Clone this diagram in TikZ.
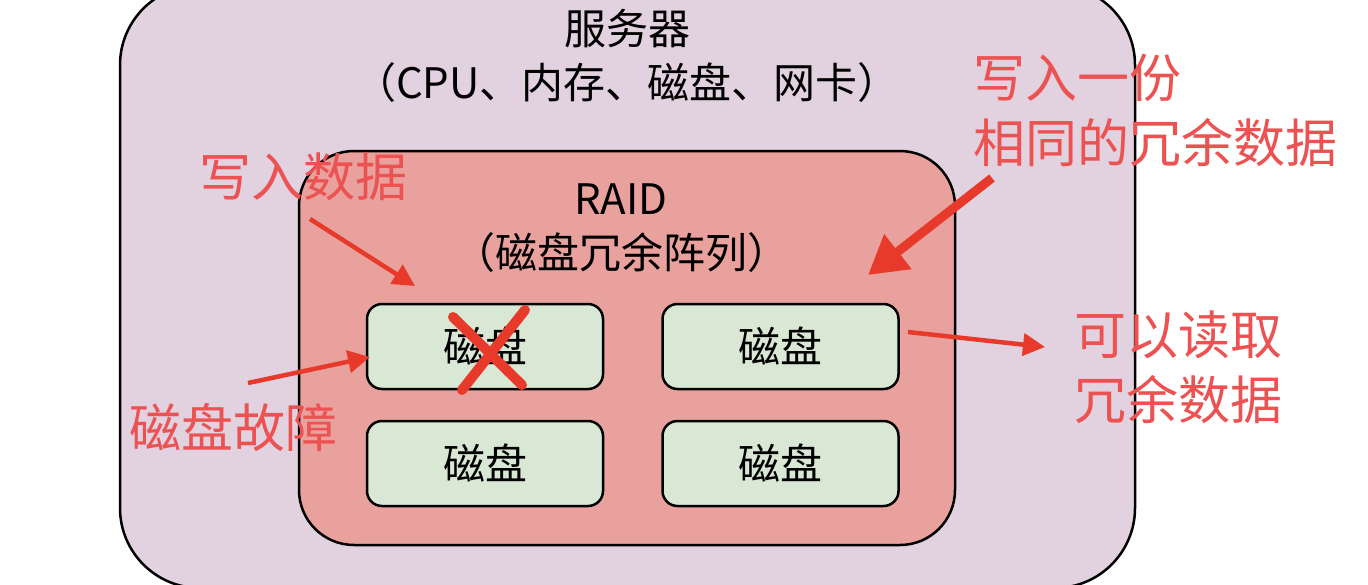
\documentclass[tikz,border=0pt]{standalone}
\usepackage{fontspec}
\setmainfont{Noto Sans CJK SC}
\usetikzlibrary{arrows.meta}
\definecolor{outerfill}{HTML}{E2D1DE}
\definecolor{raidfill}{HTML}{E8A19C}
\definecolor{diskfill}{HTML}{D9E8D5}
\definecolor{redtext}{HTML}{EC5252}
\definecolor{arrowred}{HTML}{E83A2A}
\begin{document}
\begin{tikzpicture}[x=1pt,y=-1pt,
  blk/.style={font=\fontsize{42}{54}\selectfont, text=black, align=center, inner sep=0pt, text height=37pt, text depth=5pt},
  redtxt/.style={font=\fontsize{52}{65}\selectfont, text=redtext, align=left, inner sep=0pt, text height=45.8pt, text depth=6.2pt},
  box/.style={draw=black, line width=2.5pt, inner sep=0pt},
  disk/.style={box, fill=diskfill, rounded corners=15pt, minimum width=236pt, minimum height=85pt, font=\fontsize{42}{50}\selectfont, text height=37pt, text depth=5pt},
  redarrow/.style={draw=arrowred, line width=4.5pt, -{Triangle[length=22pt,width=22pt]}},
  bigarrow/.style={draw=arrowred, line width=9pt, -{Triangle[length=38pt,width=42pt]}},
  cross/.style={draw=arrowred, line width=10pt, line cap=round}
]
\useasboundingbox (0,0) rectangle (1368,584);
\clip (0,0) rectangle (1368,584);

% boxes
\node[box, fill=outerfill, rounded corners=80pt, minimum width=1015pt, minimum height=603pt] (server) at (627.5,286.5) {};
\node[box, fill=raidfill, rounded corners=55pt, minimum width=656pt, minimum height=394pt] (raid) at (627,348) {};

% titles
\node[blk] (srvlbl) at (627,82) {服务器\\（CPU、内存、磁盘、网卡）};
\node[blk] (raidlbl) at (621,252) {RAID\\（磁盘冗余阵列）};

% disks
\node[disk] (d1) at (485,346.5) {磁盘};
\node[disk] (d2) at (780.5,346.5) {磁盘};
\node[disk] (d3) at (485,463.5) {磁盘};
\node[disk] (d4) at (780.5,463.5) {磁盘};

% red cross
\coordinate (xa1) at (453,317);
\coordinate (xa2) at (522,385);
\coordinate (xb1) at (525,310);
\coordinate (xb2) at (462,390);
\draw[cross] (xa1) -- (xa2);
\draw[cross] (xb1) -- (xb2);

% red labels
\node[redtxt, anchor=west] (wdata) at (199,177) {写入数据};
\node[redtxt, anchor=west] (wcopy) at (973,142.5) {写入一份\\相同的冗余数据};
\node[redtxt, anchor=west] (rdata) at (1074,399.5) {可以读取\\冗余数据};
\node[redtxt, anchor=west] (fail) at (129,428) {磁盘故障};

% arrows
\coordinate (a1s) at (310,219);
\coordinate (a1e) at (415,286);
\coordinate (a2s) at (992,178);
\coordinate (a2e) at (868,275);
\coordinate (a3s) at (908,332);
\coordinate (a3e) at (1045,347);
\coordinate (a4s) at (248,383);
\coordinate (a4e) at (370,357);
\draw[redarrow] (a1s) -- (a1e);
\draw[bigarrow] (a2s) -- (a2e);
\draw[redarrow] (a3s) -- (a3e);
\draw[redarrow] (a4s) -- (a4e);
\end{tikzpicture}
\end{document}
